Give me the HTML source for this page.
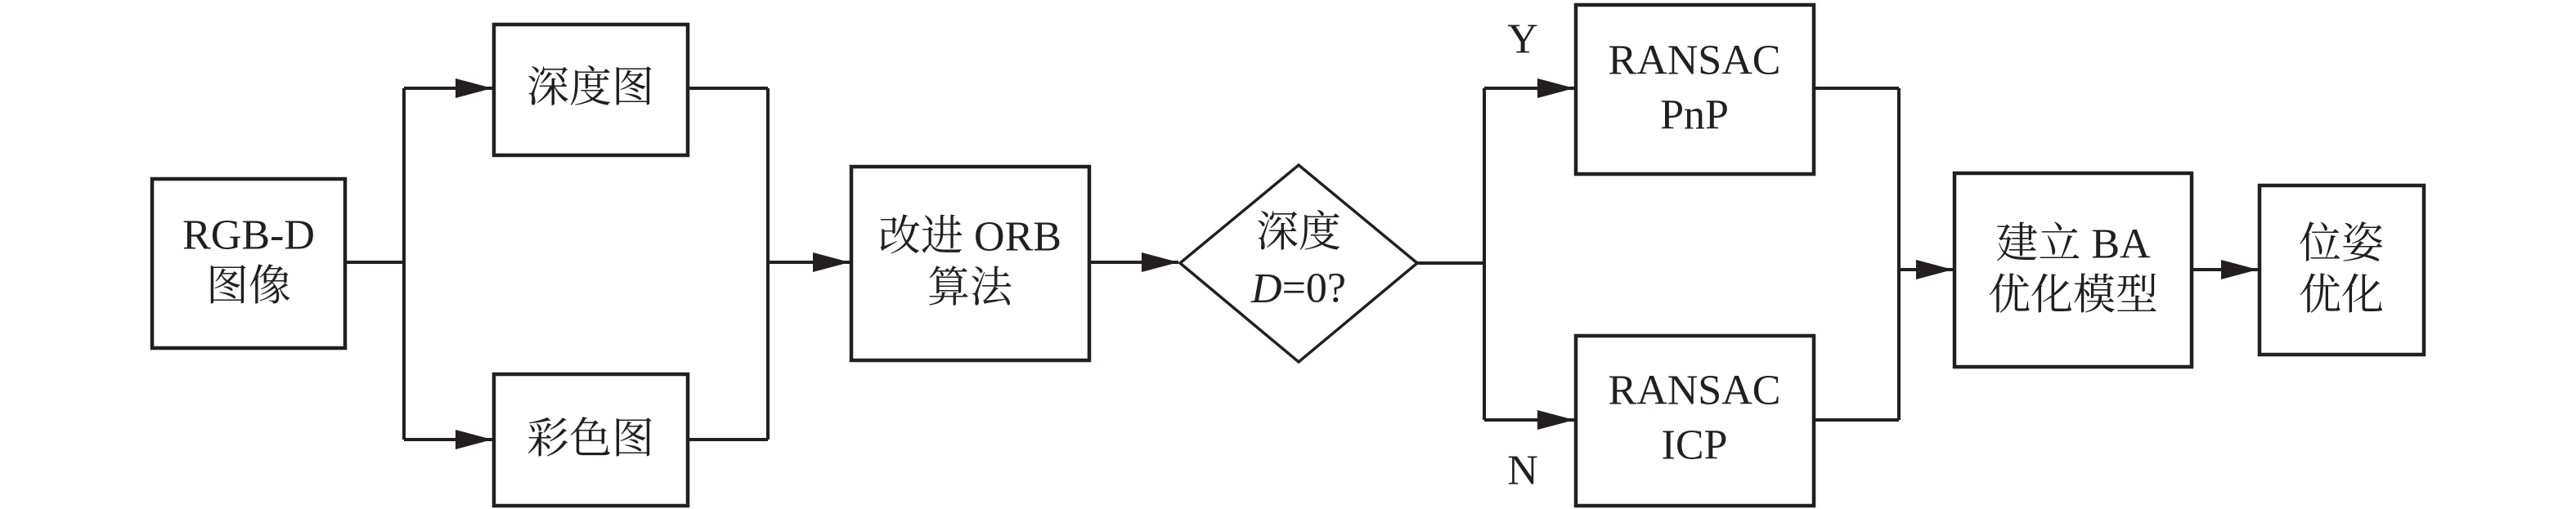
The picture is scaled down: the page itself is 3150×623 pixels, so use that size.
<!DOCTYPE html>
<html><head><meta charset="utf-8"><style>html,body{margin:0;padding:0;background:#fff}svg{display:block}</style></head>
<body>
<svg width="3150" height="623" viewBox="0 0 3150 623" xmlns="http://www.w3.org/2000/svg">
<defs>
<marker id="a" markerWidth="45" markerHeight="24" refX="45" refY="12" orient="auto" markerUnits="userSpaceOnUse">
<path d="M0,0 L45,12 L0,24 Z" fill="#231f20"/>
</marker>
</defs>
<g fill="none" stroke="#231f20" stroke-width="4.5">
<rect x="186" y="219" width="236" height="207"/>
<rect x="604" y="30" width="237" height="160"/>
<rect x="604" y="458" width="237" height="161"/>
<rect x="1041" y="204" width="291" height="237"/>
<polygon points="1443,322 1588,202 1733,322 1588,443" stroke-width="3.5"/>
<rect x="1927" y="6" width="291" height="207"/>
<rect x="1927" y="411" width="291" height="208"/>
<rect x="2390" y="212" width="290" height="237"/>
<rect x="2763" y="227" width="201" height="207"/>
<g stroke-width="4">
<line x1="422" y1="321" x2="494" y2="321"/>
<line x1="494" y1="108" x2="494" y2="538"/>
<line x1="494" y1="108" x2="602" y2="108" marker-end="url(#a)"/>
<line x1="494" y1="538" x2="602" y2="538" marker-end="url(#a)"/>
<line x1="841" y1="108" x2="939" y2="108"/>
<line x1="841" y1="538" x2="939" y2="538"/>
<line x1="939" y1="108" x2="939" y2="538"/>
<line x1="939" y1="321" x2="1039" y2="321" marker-end="url(#a)"/>
<line x1="1332" y1="321" x2="1441" y2="321" marker-end="url(#a)"/>
<line x1="1733" y1="322" x2="1815" y2="322"/>
<line x1="1815" y1="108" x2="1815" y2="514"/>
<line x1="1815" y1="108" x2="1925" y2="108" marker-end="url(#a)"/>
<line x1="1815" y1="514" x2="1925" y2="514" marker-end="url(#a)"/>
<line x1="2218" y1="108" x2="2322" y2="108"/>
<line x1="2218" y1="514" x2="2322" y2="514"/>
<line x1="2322" y1="108" x2="2322" y2="514"/>
<line x1="2322" y1="330" x2="2388" y2="330" marker-end="url(#a)"/>
<line x1="2680" y1="330" x2="2761" y2="330" marker-end="url(#a)"/>
</g>
</g>
<g font-family="'Liberation Serif','Noto Serif CJK SC',serif" font-size="52" fill="#231f20" text-anchor="middle" dominant-baseline="central">
<text x="304" y="288">RGB-D</text>
<text x="304" y="351">图像</text>
<text x="722" y="108">深度图</text>
<text x="722" y="538">彩色图</text>
<text x="1186" y="290">改进 ORB</text>
<text x="1186" y="353">算法</text>
<text x="1588" y="285">深度</text>
<text x="1588" y="353"><tspan font-style="italic">D</tspan>=0?</text>
<text x="2072" y="74">RANSAC</text>
<text x="2072" y="141">PnP</text>
<text x="2072" y="478">RANSAC</text>
<text x="2072" y="545">ICP</text>
<text x="2535" y="299">建立 BA</text>
<text x="2535" y="362">优化模型</text>
<text x="2863" y="299">位姿</text>
<text x="2863" y="362">优化</text>
<text x="1862" y="48">Y</text>
<text x="1862" y="576">N</text>
</g>
</svg>
</body></html>
